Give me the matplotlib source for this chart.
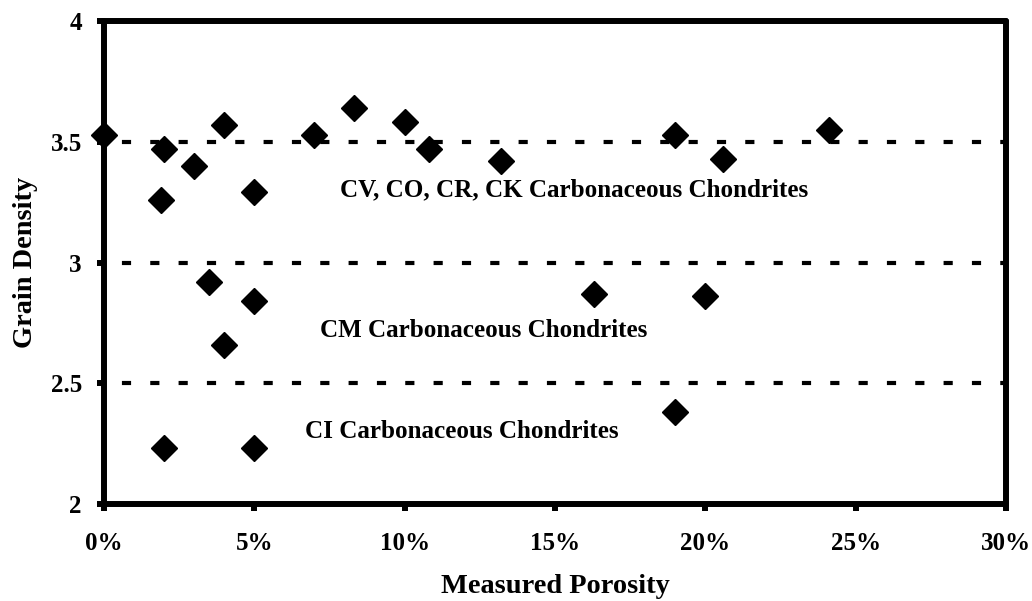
import matplotlib.pyplot as plt
from matplotlib.ticker import FuncFormatter

# porosity (%) and grain density
porosity = [0, 2, 1.9, 3, 4, 5, 3.5, 5, 4, 2, 5,
            7, 8.3, 10, 10.8, 13.2, 19, 20.6, 24.1, 16.3, 20, 19]
density = [3.53, 3.47, 3.26, 3.40, 3.57, 3.29, 2.92, 2.84, 2.66, 2.23, 2.23,
           3.53, 3.64, 3.58, 3.47, 3.42, 3.53, 3.43, 3.55, 2.87, 2.86, 2.38]

group_lines = [3.5, 3.0, 2.5]
group_labels = ["CV, CO, CR, CK Carbonaceous Chondrites",
                "CM Carbonaceous Chondrites",
                "CI Carbonaceous Chondrites"]
label_x = [7.85, 7.2, 6.7]
label_y = [3.30, 2.72, 2.30]

plt.rcParams['font.family'] = ['Liberation Serif', 'DejaVu Serif']
plt.rcParams['font.weight'] = 'bold'

fig = plt.figure(figsize=(10.32, 6.01), dpi=100)
ax = fig.add_axes([0.1008, 0.1614, 0.874, 0.8036])

for y in group_lines:
    ax.axhline(y, color='black', lw=3, linestyle=(2.5, (2.2, 4.6)), zorder=1)

ax.plot(porosity, density, linestyle='none', marker='D', ms=13,
        color='black', clip_on=False, zorder=5)

for t, x, y in zip(group_labels, label_x, label_y):
    ax.text(x, y, t, fontsize=18.1, fontweight='bold', va='center', ha='left')

ax.set_xlim(0, 30)
ax.set_ylim(2, 4)
ax.set_xticks([0, 5, 10, 15, 20, 25, 30])
ax.set_yticks([2, 2.5, 3, 3.5, 4])
ax.xaxis.set_major_formatter(FuncFormatter(lambda v, p: "%d%%" % v))
ax.yaxis.set_major_formatter(FuncFormatter(lambda v, p: "%g" % v))

for s in ax.spines.values():
    s.set_linewidth(4.3)
    s.set_capstyle('round')
ax.tick_params(axis='both', direction='out', length=5, width=4.3,
               labelsize=18)
ax.tick_params(axis='x', pad=15)
ax.tick_params(axis='y', pad=11)

xl = ax.set_xlabel('Measured Porosity', fontsize=20.4, fontweight='bold')
yl = ax.set_ylabel('Grain Density', fontsize=20.4, fontweight='bold')
xl.set_va('center')
yl.set_va('center')
ax.xaxis.set_label_coords(0.5, -0.171)
ax.yaxis.set_label_coords(-0.0876, 0.5)

plt.savefig("out.png", dpi=100)
